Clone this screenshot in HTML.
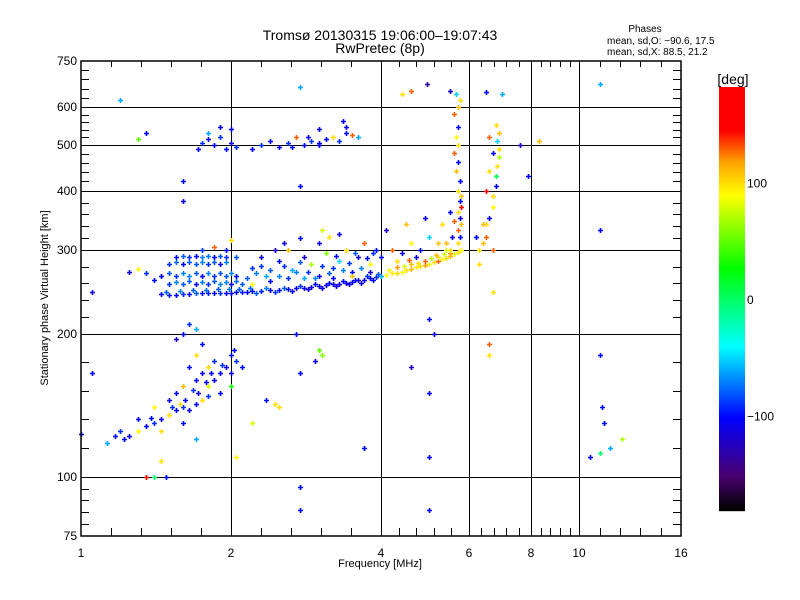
<!DOCTYPE html>
<html><head><meta charset="utf-8"><style>
html,body{margin:0;padding:0;background:#fff;width:800px;height:600px;overflow:hidden}
svg{display:block;font-family:"Liberation Sans",sans-serif}
</style></head><body>
<svg id="chart" width="800" height="600" viewBox="0 0 800 600" xmlns="http://www.w3.org/2000/svg">
<rect width="800" height="600" fill="#fff"/>
<text x="380" y="40" font-size="14" text-anchor="middle">Tromsø 20130315 19:06:00–19:07:43</text>
<text x="380" y="53" font-size="14" text-anchor="middle">RwPretec (8p)</text>
<text x="645" y="32" font-size="10" text-anchor="middle">Phases</text>
<text x="607" y="44" font-size="10">mean, sd,O: −90.6, 17.5</text>
<text x="607" y="55" font-size="10">mean, sd,X:  88.5, 21.2</text>
<text transform="translate(48,298) rotate(-90)" font-size="11" text-anchor="middle">Stationary phase Virtual Height [km]</text>
<text x="380" y="567" font-size="11" text-anchor="middle">Frequency [MHz]</text>
<g id="grid"></g><g id="ticks"></g><g id="marks"></g>
<rect x="81" y="61" width="600" height="475" fill="none" stroke="#000" stroke-width="1.5"/>
<g id="cbar"></g>
<text x="733" y="84" font-size="14" text-anchor="middle">[deg]</text>
</svg>
<script>
const xTicks=[1,2,4,6,8,10,16];
const xTickLabels=["1","2","4","6","8","10","16"];
const yTicks=[75,100,200,300,400,500,600,750];
const yTickLabels=["75","100","200","300","400","500","600","750"];
const gridX=[2,4,6,8,10];
const gridY=[100,200,300,400,500,600];
const cbTicks=[100,0,-100];
// [freq MHz, height km, phase deg]
const pts=[
[1.45,242,-100],[1.5,241,-95],[1.55,241,-100],[1.6,242,-90],[1.65,242,-100],[1.7,243,-80],[1.75,243,-100],[1.8,243,-95],[1.85,243,-100],[1.9,244,-90],[1.95,244,-100],[2.0,244,-105],[2.05,245,-100],[2.1,245,-95],[2.15,245,-100],[2.2,246,-100],[2.3,246,-95],[2.4,247,-105],[2.5,247,-100],[2.6,248,-100],[2.7,249,-110],[2.8,250,-105],[2.9,251,-110],[3.0,252,-110],[3.1,253,-105],[3.2,254,-110],[3.3,255,-110],[3.4,256,-105],[3.5,257,-110],[3.6,259,-110],[3.7,260,-105],[3.8,262,-100],[3.9,263,-90],[4.0,265,-60],
[1.48,245,-80],[1.58,246,-70],[1.68,247,-80],[1.78,247,-75],[1.88,248,-80],[1.98,248,-70],[2.08,248,-80],[2.18,249,-75],[2.25,244,-80],[2.35,249,-70],[2.45,245,-90],[2.55,250,-80],[2.65,246,-100],[2.75,252,-90],[2.85,248,-110],[2.95,254,-100],[3.05,250,-110],[3.15,256,-100],[3.25,252,-110],[3.35,258,-100],[3.45,254,-110],[3.55,260,-100],[3.65,256,-110],[3.75,264,-90],[3.85,260,-100],[3.95,267,-80],
[4.1,266,90],[4.2,268,95],[4.3,269,100],[4.4,270,90],[4.5,272,100],[4.6,274,110],[4.7,276,95],[4.8,277,100],[4.9,279,120],[5.0,281,95],[5.1,283,100],[5.2,285,130],[5.3,287,90],[5.4,289,100],[5.5,291,110],[5.6,294,80],[5.7,297,100],[5.8,300,90],
[4.3,276,120],[4.6,280,110],[4.9,284,130],[5.2,290,100],[5.5,296,120],[4.45,278,80],[5.05,288,70],[4.15,272,90],[4.75,282,100],[5.35,294,80],[4.55,286,130],[5.15,293,110],
[1.5,255,-90],[1.6,255,-80],[1.7,255,-100],[1.8,255,-90],[1.9,255,-70],[2.0,255,-100],[2.1,255,-80],
[1.55,257,-70],[1.65,258,-80],[1.75,257,-70],[1.85,258,-80],[1.95,257,-70],[2.05,258,-75],
[1.45,265,-100],[1.55,265,-90],[1.65,265,-70],[1.75,265,-100],[1.85,265,-90],[1.95,265,-80],[2.05,265,-100],
[1.5,268,-80],[1.6,268,-70],[1.7,268,-80],[1.8,268,-70],[1.9,268,-80],[2.0,268,-70],
[1.5,280,-90],[1.6,280,-100],[1.7,280,-80],[1.8,280,-90],[1.9,280,-100],[1.55,283,-75],[1.65,283,-80],[1.75,283,-70],[1.85,283,-80],[1.95,283,-70],
[1.55,290,-100],[1.65,290,-90],[1.75,290,-70],[1.85,290,-100],[1.95,290,-90],[2.05,290,-80],[1.6,292,-80],[1.7,292,-100],[1.8,292,-75],[1.9,292,-80],
[2.15,262,-80],[2.25,268,-70],[2.3,278,-90],[2.4,272,-80],[2.5,265,-70],[2.55,278,-90],[2.65,272,-60],[2.75,283,-80],[2.85,270,-90],[2.95,262,-70],[3.05,278,-90],[3.15,268,-80],[3.25,292,-100],[3.35,272,-70],[3.45,282,-90],[3.55,295,-80],[3.65,275,-70],[3.75,288,-100],[3.85,296,-90],
[2.2,275,-90],[2.3,290,-110],[2.35,265,-60],[2.5,285,-100],[2.6,300,110],[2.7,270,-70],[2.8,290,-120],[2.9,280,70],[3.0,265,-100],[3.0,310,-110],[3.1,295,60],[3.2,275,-90],[3.3,285,-50],[3.4,300,100],[3.5,270,-100],[3.6,290,-110],[3.7,310,130],[3.8,280,90],[3.9,300,-100],[2.4,258,-100],[2.6,262,-90],[2.8,262,-60],[3.2,262,-100],[3.5,265,110],[3.8,270,-120],[2.2,255,90],[2.45,300,-120],[3.05,330,80],[3.15,320,100],[3.3,325,-110],[2.75,318,-100],[2.55,310,-110],[4.0,290,-100],[4.2,300,130],[4.4,295,-110],[4.6,310,90],[4.8,300,-100],[5.0,320,-50],[5.2,310,110],[4.3,285,100],[4.7,290,-110],[5.4,300,80],[4.1,330,-120],[4.5,340,110],[4.9,350,-110],[5.3,340,100],[1.4,260,-100],[1.35,268,-90],[1.3,273,90],[1.25,270,-110],[1.05,245,-110],[1.75,300,-90],[1.85,305,130],[2.0,315,100],[1.95,300,-100],
[5.7,310,100],[5.75,320,-100],[5.7,330,130],[5.8,340,110],[5.75,350,-110],[5.7,360,100],[5.8,370,150],[5.75,380,-100],[5.8,390,110],[5.7,400,100],[5.75,420,-100],[5.65,440,110],[5.7,460,-100],[5.6,480,130],[5.7,500,100],[5.65,520,90],[5.7,545,-100],[5.6,580,130],[5.7,600,110],[5.75,620,100],[5.65,640,-50],[5.5,300,100],[5.55,320,-110],[5.6,345,130],[5.4,310,110],[5.5,360,-100],
[6.3,300,100],[6.4,310,110],[6.5,320,130],[6.5,340,100],[6.6,350,-110],[6.7,370,90],[6.7,390,100],[6.8,410,-100],[6.8,430,110],[6.85,450,100],[6.9,470,70],[6.9,490,100],[6.85,510,-50],[6.9,530,110],[6.8,550,100],[6.5,400,150],[6.6,440,100],[6.7,480,-100],[6.6,520,130],[6.4,340,110],[6.2,320,-100],[6.7,300,130],[6.3,280,100],
[1.72,490,-100],[1.75,505,-90],[1.8,515,-110],[1.85,500,-100],[1.9,520,-90],[1.95,490,-100],[2.0,505,-110],[2.05,495,-90],[2.0,540,-100],[1.9,545,-110],[1.8,530,-60],[2.3,500,-90],[2.4,510,-100],[2.5,495,-110],[2.6,505,-90],[2.7,520,130],[2.8,500,-100],[2.9,510,-90],[3.0,505,-110],[3.1,515,-100],[3.2,520,100],[3.3,510,-90],[3.4,530,-100],[3.5,525,130],[3.4,545,-110],[3.6,520,-60],[2.2,490,-100],[3.0,500,-100],[2.65,495,-100],[2.85,520,-110],
[1.13,118,-60],[1.17,122,-100],[1.2,125,-90],[1.25,122,-110],[1.3,125,90],[1.35,128,-100],[1.4,130,-90],[1.45,132,-110],[1.5,135,100],[1.55,138,-100],[1.6,140,-90],[1.65,138,-110],[1.7,142,-100],[1.75,145,100],[1.8,148,-90],[1.55,150,-100],[1.6,155,110],[1.7,160,-100],[1.75,165,-110],[1.8,170,100],[1.85,175,-90],[1.9,165,-100],[1.95,170,-110],[2.0,180,-100],[2.05,175,-90],[1.65,170,-100],[1.7,180,100],[1.85,160,-110],[1.9,150,-100],[1.5,145,-110],[1.4,140,90],[1.3,132,-100],[1.45,125,100],[1.6,130,-100],[1.8,155,80],[2.0,165,-110],[2.03,185,-100],[1.75,190,-100],[1.6,200,-100],[1.65,210,-90],[1.55,195,-120],[1.7,205,-60],[2.0,155,30],[2.1,170,-100],[1.0,123,-100],[1.05,165,-100],
[1.22,120,-100],[1.38,133,-100],[1.52,140,-90],[1.62,145,-100],[1.72,150,-110],[1.78,158,-100],[1.68,152,-90],[1.58,142,100],[1.82,165,-100],[1.92,172,-90],
[1.2,620,-60],[1.35,530,-100],[1.3,515,50],[1.6,420,-100],[1.6,380,-110],[2.75,660,-60],[2.75,410,-100],[3.35,560,-100],[3.0,540,-110],[4.4,640,100],[4.6,650,130],[4.95,670,-130],[5.5,650,-120],[6.5,645,-100],[7.0,640,-60],[6.8,430,0],[7.6,500,-120],[7.9,430,-100],[8.3,510,110],[11.0,670,-60],[11.0,330,-100],[11.0,180,-100],[11.1,140,-100],[11.2,130,-100],[11.5,115,-60],[11.0,112,0],[12.2,120,70],[10.5,110,-100],[6.6,190,130],[6.6,180,100],[6.7,245,100],[5.0,215,-100],[5.0,150,-100],[5.1,200,-110],[5.0,110,-100],[5.0,85,-100],[4.6,170,-120],[3.0,185,50],[3.05,180,60],[2.95,175,-110],[2.5,140,100],[2.45,142,100],[2.7,200,-100],[2.75,165,-100],[2.75,95,-100],[2.75,85,-100],[2.2,130,80],[2.05,110,90],[1.7,120,-60],[1.45,108,100],[1.4,100,0],[1.48,100,-100],[1.35,100,180],[2.35,145,-100],[3.7,115,-100]
];
const NS="http://www.w3.org/2000/svg";
const L=81,R=681,T=61,B=536;
function xs(f){return L+(R-L)*Math.log(f)/Math.log(16);}
function ys(h){return B-(B-T)*Math.log(h/75)/Math.log(10);}
const stops=[[-180,[0,0,0]],[-151,[74,0,112]],[-101,[0,0,255]],[-40,[0,255,255]],[27,[0,255,0]],[90,[255,255,0]],[119,[255,160,0]],[146,[255,0,0]],[181,[255,0,0]]];
function col(v){
  for(let i=0;i<stops.length-1;i++){const a=stops[i],b=stops[i+1];
    if(v<=b[0]){const t=Math.max(0,(v-a[0])/(b[0]-a[0]));
      return "rgb("+a[1].map((c,k)=>Math.round(c+(b[1][k]-c)*t)).join(",")+")";}}
  return "rgb(255,0,0)";
}
function mk(tag,attrs,parent){const e=document.createElementNS(NS,tag);for(const k in attrs)e.setAttribute(k,attrs[k]);parent.appendChild(e);return e;}
const grid=document.getElementById('grid'),ticks=document.getElementById('ticks'),marks=document.getElementById('marks'),cbar=document.getElementById('cbar');
gridX.forEach(f=>{const x=Math.round(xs(f))+0.5;
  const l=mk('line',{x1:x,x2:x,y1:T,y2:B,stroke:'#000','stroke-width':1},grid);
  
  });
gridY.forEach(h=>{const y=Math.round(ys(h))+0.5;
  const l=mk('line',{x1:L,x2:R,y1:y,y2:y,stroke:'#000','stroke-width':1},grid);
  
  });
for(let i=0;i<xTicks.length;i++){
  const x=Math.round(xs(xTicks[i]));
  const t=mk('text',{x:x,y:557,'font-size':12,'text-anchor':'middle'},ticks);t.textContent=xTickLabels[i];
  
  
  if(i<xTicks.length-1){const a=Math.log(xTicks[i]),b=Math.log(xTicks[i+1]);
    for(let k=1;k<5;k++){const xx=Math.round(xs(Math.exp(a+(b-a)*k/5)))+0.5;
      mk('line',{x1:xx,x2:xx,y1:B,y2:B-8,stroke:'#000'},ticks);mk('line',{x1:xx,x2:xx,y1:T,y2:T+6,stroke:'#000'},ticks);}}
}
for(let i=0;i<yTicks.length;i++){
  const y=Math.round(ys(yTicks[i]));
  const t=mk('text',{x:77,y:y+4,'font-size':12,'text-anchor':'end'},ticks);t.textContent=yTickLabels[i];
  
  
  if(i<yTicks.length-1){const a=Math.log(yTicks[i]),b=Math.log(yTicks[i+1]);
    for(let k=1;k<5;k++){const yy=Math.round(ys(Math.exp(a+(b-a)*k/5)))+0.5;
      mk('line',{x1:L,x2:L+8,y1:yy,y2:yy,stroke:'#000'},ticks);mk('line',{x1:R,x2:R-8,y1:yy,y2:yy,stroke:'#000'},ticks);}}
}
pts.forEach(p=>{const x=Math.round(xs(p[0]))+0.5,y=Math.round(ys(p[1]))+0.5,c=col(p[2]);
  const g=mk('path',{d:`M${x-2.5} ${y}H${x+2.5}M${x} ${y-2.5}V${y+2.5}`,stroke:c,'stroke-width':1.6,fill:'none'},marks);
  
  });
const CT=87,CB=511,CV0=-181,CV1=183;
function cy(v){return CB-(CB-CT)*(v-CV0)/(CV1-CV0);}
for(let y=CT;y<CB;y++){const v=CV0+(CV1-CV0)*(CB-y-0.5)/(CB-CT);
  mk('rect',{x:719,y:y,width:26,height:1.2,fill:col(v)},cbar);}
const cbr=mk('rect',{x:719,y:CT,width:26,height:CB-CT,fill:'none'},cbar);


cbTicks.forEach(v=>{const t=mk('text',{x:747,y:cy(v)+4,'font-size':12},cbar);t.textContent=(v<0?'−':'')+Math.abs(v);
  
  });
</script>
</body></html>
